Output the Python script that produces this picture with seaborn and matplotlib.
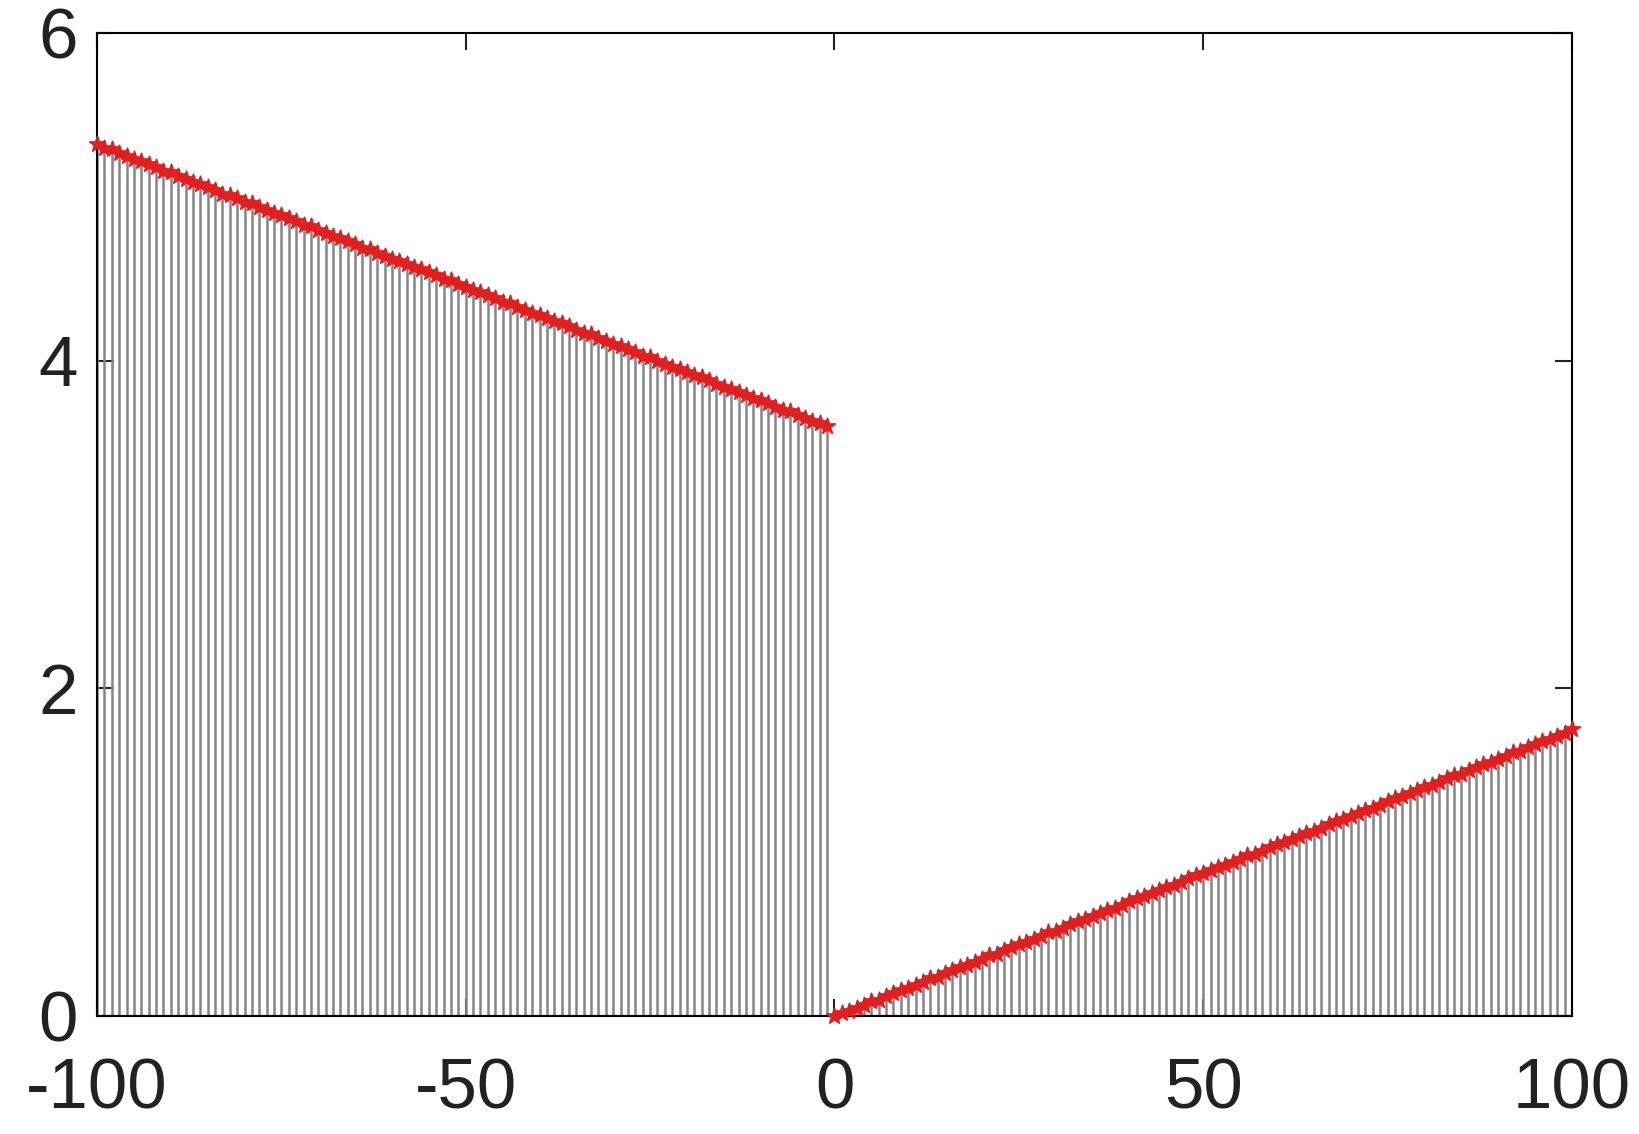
import numpy as np
import pandas as pd
import seaborn as sns
import matplotlib
matplotlib.use("Agg")
import matplotlib.pyplot as plt

# x positions of the stems (integers -100..100)
x_left = list(range(-100, 0))
x_right = list(range(0, 101))

# values, left branch (x=-100..-1)
y_left = [
    5.32, 5.30, 5.29, 5.27, 5.25, 5.23, 5.22, 5.20, 5.18, 5.16,
    5.15, 5.13, 5.11, 5.09, 5.08, 5.06, 5.04, 5.02, 5.01, 4.99,
    4.97, 4.96, 4.94, 4.92, 4.90, 4.89, 4.87, 4.85, 4.83, 4.82,
    4.80, 4.78, 4.76, 4.75, 4.73, 4.71, 4.69, 4.68, 4.66, 4.64,
    4.62, 4.61, 4.59, 4.57, 4.56, 4.54, 4.52, 4.50, 4.49, 4.47,
    4.45, 4.43, 4.42, 4.40, 4.38, 4.36, 4.35, 4.33, 4.31, 4.29,
    4.28, 4.26, 4.24, 4.23, 4.21, 4.19, 4.17, 4.16, 4.14, 4.12,
    4.10, 4.09, 4.07, 4.05, 4.03, 4.02, 4.00, 3.98, 3.96, 3.95,
    3.93, 3.91, 3.90, 3.88, 3.86, 3.84, 3.83, 3.81, 3.79, 3.77,
    3.76, 3.74, 3.72, 3.70, 3.69, 3.67, 3.65, 3.63, 3.62, 3.60,
]

# right branch (x=0..100)
y_right = [
    0.00, 0.02, 0.03, 0.05, 0.07, 0.09, 0.10, 0.12, 0.14, 0.16,
    0.17, 0.19, 0.21, 0.23, 0.24, 0.26, 0.28, 0.30, 0.31, 0.33,
    0.35, 0.37, 0.38, 0.40, 0.42, 0.44, 0.45, 0.47, 0.49, 0.51,
    0.52, 0.54, 0.56, 0.58, 0.59, 0.61, 0.63, 0.65, 0.66, 0.68,
    0.70, 0.72, 0.73, 0.75, 0.77, 0.79, 0.80, 0.82, 0.84, 0.86,
    0.87, 0.89, 0.91, 0.92, 0.94, 0.96, 0.98, 0.99, 1.01, 1.03,
    1.05, 1.06, 1.08, 1.10, 1.12, 1.13, 1.15, 1.17, 1.19, 1.20,
    1.22, 1.24, 1.26, 1.27, 1.29, 1.31, 1.33, 1.34, 1.36, 1.38,
    1.40, 1.41, 1.43, 1.45, 1.47, 1.48, 1.50, 1.52, 1.54, 1.55,
    1.57, 1.59, 1.61, 1.62, 1.64, 1.66, 1.68, 1.69, 1.71, 1.73,
    1.75,
]

x_ticks = [-100, -50, 0, 50, 100]
y_ticks = [0, 2, 4, 6]

df = pd.DataFrame({"x": x_left + x_right, "y": y_left + y_right})

sns.set_style("ticks")
plt.rcParams["font.family"] = ["Liberation Sans", "DejaVu Sans"]
plt.rcParams["axes.unicode_minus"] = False  # plain hyphen like the original

fig = plt.figure(figsize=(16.4, 11.34), dpi=100)
ax = fig.add_axes([97 / 1640, 1 - 1016 / 1134, 1475 / 1640, 983 / 1134])

# stems
ax.vlines(df["x"], 0, df["y"], color="#858585", linewidth=1.8, zorder=1)
ax.axhline(0, color="black", linewidth=1.5, zorder=2)
# red markers on top of each stem
sns.scatterplot(data=df, x="x", y="y", marker="*", color="#e02020",
                s=140, edgecolor="#e02020", linewidth=1.2, zorder=3, ax=ax,
                clip_on=False)

ax.set_xlim(-100, 100)
ax.set_ylim(0, 6)
ax.set_xticks(x_ticks)
ax.set_yticks(y_ticks)
ax.set_xlabel("")
ax.set_ylabel("")
for s in ax.spines.values():
    s.set_visible(True)
    s.set_linewidth(1.5)
    s.set_color("black")
ax.tick_params(direction="in", length=12, width=1.5, top=True, right=True,
               labelsize=51, colors="#222222")
ax.tick_params(axis="x", pad=30)
ax.tick_params(axis="y", pad=14)

fig.savefig("out.png", dpi=100, facecolor="white")
